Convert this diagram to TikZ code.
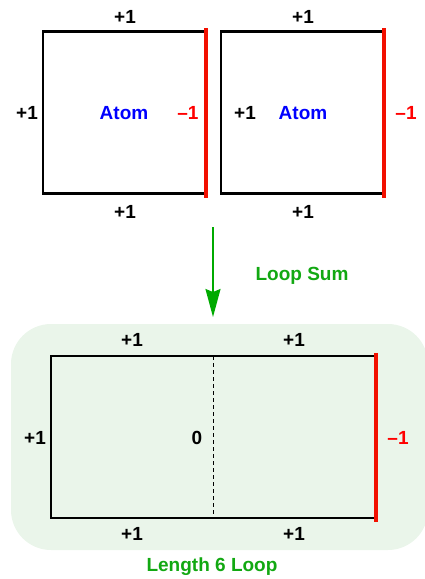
\documentclass[tikz,border=0pt]{standalone}
\usepackage{fontspec}
\setmainfont{Liberation Sans}
\usetikzlibrary{arrows.meta}
\definecolor{lgreen}{HTML}{EAF5EA}
\definecolor{dgreen}{HTML}{12A812}
\definecolor{agreen}{HTML}{00AA00}
\definecolor{myred}{HTML}{F21000}
\begin{document}
\begin{tikzpicture}[x=1pt,y=-1pt,
  lbl/.style={font=\fontsize{19}{21}\selectfont\bfseries, inner sep=0pt},
  box/.style={draw=black, line width=2.3pt, minimum width=#1, minimum height=162pt, inner sep=0pt},
  rededge/.style={draw=myred, line width=4pt},
  atom/.style={lbl, text=blue},
  neg/.style={lbl, text=red},
  grn/.style={lbl, text=dgreen}]
\useasboundingbox (0,0) rectangle (424,579);
% top boxes
\node[box=162pt] (b1) at (124,112.5) {};
\node[box=162pt] (b2) at (302,112.5) {};
\draw[rededge] ([yshift=2pt]b1.north east) -- ([yshift=-3pt]b1.south east);
\draw[rededge] ([yshift=2pt]b2.north east) -- ([yshift=-3pt]b2.south east);
\node[lbl] (t1) at (125,17) {+1};
\node[lbl] (bt1) at (125,212) {+1};
\node[lbl] (l1) at (27,113) {+1};
\node[atom] (a1) at (124,113) {Atom};
\node[neg] (r1) at (188,113) {\char"2013 1};
\node[lbl] (t2) at (303,17) {+1};
\node[lbl] (bt2) at (303,212) {+1};
\node[lbl] (l2) at (245,113) {+1};
\node[atom] (a2) at (303,113) {Atom};
\node[neg] (r2) at (406,113) {\char"2013 1};
% arrow
\coordinate (as) at (213,227);
\coordinate (ae) at (213,317);
\draw[agreen, line width=1.7pt, -{Stealth[length=28pt,width=15pt,inset=3pt]}] (as) -- (ae);
\node[grn] (ls) at (302,276) {Loop Sum};
% bottom
\fill[lgreen, rounded corners=40pt] (11,324) rectangle (428,550);
\node[box=324pt] (big) at (213,437) {};
\coordinate (dt) at (213,356);
\coordinate (db) at (213,518);
\draw[black, line width=0.9pt, dash pattern=on 4pt off 3pt] (dt) -- (db);
\draw[rededge] ([yshift=2pt]big.north east) -- ([yshift=-3pt]big.south east);
\node[lbl] (bt3) at (132,340) {+1};
\node[lbl] (bt4) at (294,340) {+1};
\node[lbl] (bb3) at (132,534) {+1};
\node[lbl] (bb4) at (294,534) {+1};
\node[lbl] (bl) at (35,438) {+1};
\node[lbl] (zero) at (197,438) {0};
\node[neg] (br) at (398,438) {\char"2013 1};
\node[grn] (len) at (212,567) {Length 6 Loop};
\end{tikzpicture}
\end{document}
